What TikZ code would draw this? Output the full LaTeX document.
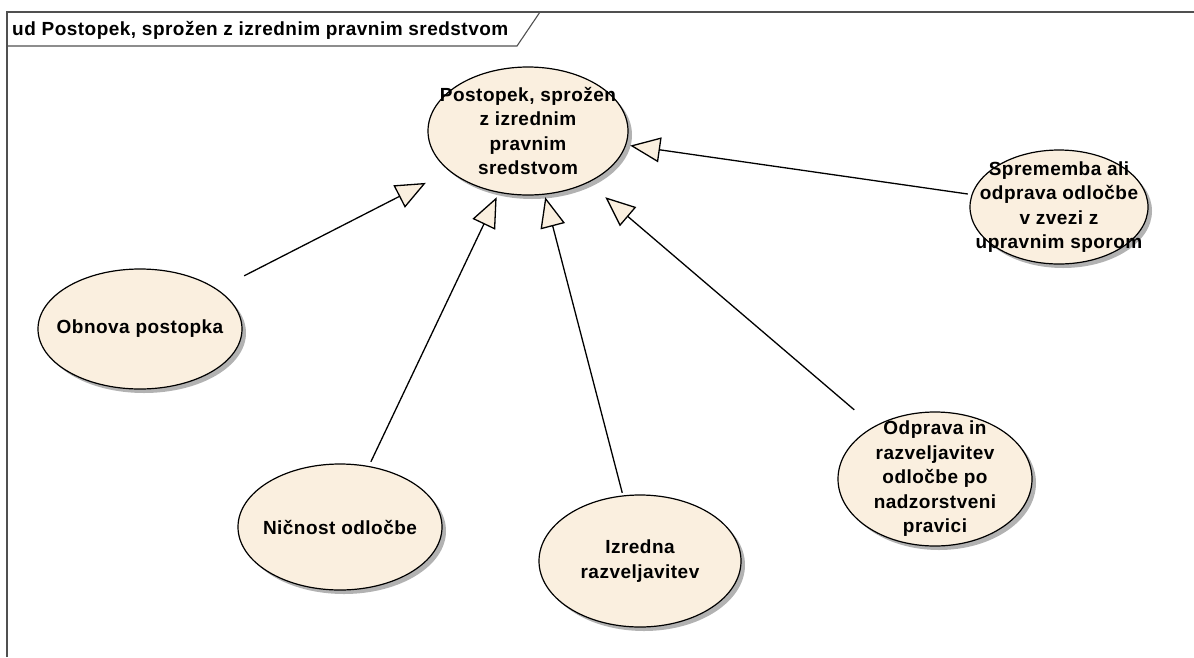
\documentclass[tikz,border=0pt]{standalone}
\usepackage{fontspec}
\setmainfont{Liberation Sans}[LetterSpace=2.5]
\usetikzlibrary{arrows.meta}
\definecolor{ucfill}{RGB}{250,239,223}
\definecolor{ucshadow}{RGB}{178,178,178}
\definecolor{framecol}{RGB}{80,80,80}

\tikzset{
  uctext/.style={rectangle, inner sep=0pt, align=center,
    font=\fontsize{19}{24.5}\selectfont\bfseries},
  ucshape/.style={fill=ucfill, draw=black, line width=1.2pt},
  ucshade/.style={fill=ucshadow},
  gen/.style={line width=1.3pt, line join=miter,
    -{Triangle[length=30pt, width=25pt, fill=ucfill, line width=1.3pt]}},
  frameline/.style={draw=framecol, line width=1.1pt},
}

% use case: name, x, y, x radius, y radius, label
\newcommand\usecasenode[6]{%
  \fill[ucshade] (#2+4,#3+4) ellipse [x radius=#4pt, y radius=#5pt];
  \path[ucshape] (#2,#3) ellipse [x radius=#4pt, y radius=#5pt];
  \node[uctext, minimum width={2*#4pt+4pt}, minimum height={2*#5pt+4pt}]
    (#1) at (#2,#3) {#6};
}

\begin{document}
\begin{tikzpicture}[x=1pt, y=-1pt]
\useasboundingbox (0,0) rectangle (1194,657);

% diagram frame with its name tab
\draw[frameline] (7,657) -- (7,12) -- (1194,12);
\draw[frameline] (7,46) -- (517,46) -- (540,12);
\node[anchor=west, inner sep=0pt, font=\fontsize{19}{22}\selectfont\bfseries]
  (title) at (12,30) {ud Postopek, sprožen z izrednim pravnim sredstvom};

% use cases
\usecasenode{top}{528}{131}{100}{64}{Postopek, sprožen\\z izrednim\\pravnim\\sredstvom}
\usecasenode{spr}{1059}{207}{89}{57}{Sprememba ali\\odprava odločbe\\v zvezi z\\upravnim sporom}
\usecasenode{obn}{140}{329}{102}{60}{Obnova postopka}
\usecasenode{nic}{340}{527}{102}{63}{Ničnost odločbe}
\usecasenode{izr}{640}{561}{101}{66}{Izredna\\razveljavitev}
\usecasenode{odp}{935}{479}{97}{67}{Odprava in\\razveljavitev\\odločbe po\\nadzorstveni\\pravici}

% generalizations
\draw[gen] (obn) -- (top);
\draw[gen] (nic) -- (top);
\draw[gen] (izr) -- (top);
\draw[gen] (odp) -- (top);
\draw[gen] (spr) -- (top);
\end{tikzpicture}
\end{document}
